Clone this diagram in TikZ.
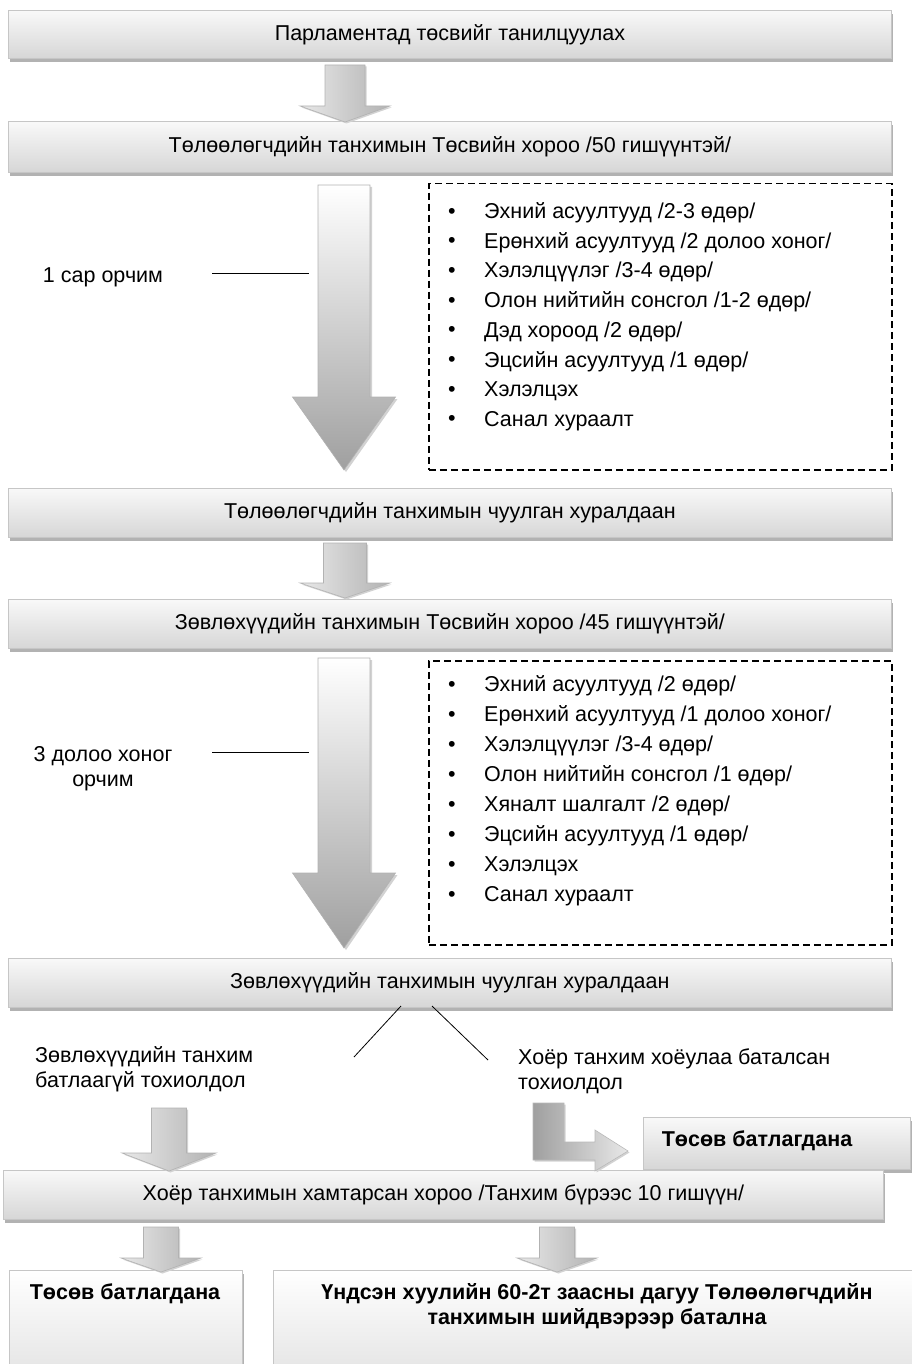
\documentclass[tikz,border=0pt]{standalone}
\usepackage{fontspec}
\setmainfont{Liberation Sans}
\usetikzlibrary{shadows,calc}
\newcommand{\dnarr}[7]{%
  \path[#1] ({#2-#6},#3) -- ({#2+#6},#3) -- ({#2+#6},#4) -- ({#2+#7},#4) -- (#2,#5) -- ({#2-#7},#4) -- ({#2-#6},#4) -- cycle;}
\begin{document}
\begin{tikzpicture}[x=1pt,y=-1pt,
  txt/.style={font=\fontsize{21.5}{25}\selectfont, inner sep=0pt},
  btxt/.style={font=\fontsize{21.5}{25}\selectfont\bfseries, inner sep=0pt},
  box/.style={txt, draw=gray!45, line width=0.8pt, top color=gray!5, bottom color=gray!32,
    drop shadow={shadow xshift=2pt, shadow yshift=-4pt, opacity=1, fill=gray!60},
    anchor=north west, align=center},
  wbox/.style={box, top color=white, bottom color=gray!22},
  dbox/.style={draw=black, line width=1.5pt, dash pattern=on 7pt off 4pt, anchor=north west, inner sep=0pt},
  smallarr/.style={draw=gray!60, line width=0.6pt, left color=gray!18, right color=gray!60,
    drop shadow={shadow xshift=1.5pt, shadow yshift=-1.5pt, opacity=1, fill=gray!35}},
  bigarr/.style={draw=gray!60, line width=0.6pt, top color=white, bottom color=gray!75,
    drop shadow={shadow xshift=2pt, shadow yshift=-2pt, opacity=1, fill=gray!35}},
  bentarr/.style={draw=gray!55, line width=0.6pt, left color=gray!75, right color=gray!18,
    drop shadow={shadow xshift=1.5pt, shadow yshift=-1.5pt, opacity=1, fill=gray!35}},
  thinline/.style={draw=black, line width=0.8pt}
]
\useasboundingbox (0,0) rectangle (912,1364);

% main boxes
\node[box, minimum width=883pt, minimum height=48pt] (b1) at (8,10) {Парламентад төсвийг танилцуулах};
\node[box, minimum width=883pt, minimum height=51pt] (b2) at (8,121) {Төлөөлөгчдийн танхимын Төсвийн хороо /50 гишүүнтэй/};
\node[box, minimum width=883pt, minimum height=49pt] (b3) at (8,488) {Төлөөлөгчдийн танхимын чуулган хуралдаан};
\node[box, minimum width=883pt, minimum height=49pt] (b4) at (8,599) {Зөвлөхүүдийн танхимын Төсвийн хороо /45 гишүүнтэй/};
\node[box, minimum width=883pt, minimum height=49pt] (b5) at (8,958) {Зөвлөхүүдийн танхимын чуулган хуралдаан};
\node[box, minimum width=267pt, minimum height=52pt] (b7) at (643,1117) {};
\node[btxt, anchor=center] (t7) at (757,1141) {Төсөв батлагдана};
\node[box, minimum width=880pt, minimum height=49pt] (b6) at (3,1170) {Хоёр танхимын хамтарсан хороо /Танхим бүрээс 10 гишүүн/};
\node[wbox, minimum width=233pt, minimum height=110pt] (b8) at (9,1270) {};
\node[wbox, minimum width=650pt, minimum height=110pt] (b9) at (273,1270) {};
\node[btxt] (t8) at (125,1294) {Төсөв батлагдана};
\node[btxt, align=center] (t9) at (597,1306) {Үндсэн хуулийн 60-2т заасны дагуу Төлөөлөгчдийн\\танхимын шийдвэрээр батална};

% dashed boxes
\node[dbox, minimum width=463pt, minimum height=286pt] (d1) at (428,183) {};
\node[dbox, minimum width=463pt, minimum height=284pt] (d2) at (428,660) {};

% bullet lists
\foreach \t [count=\i from 0] in {Эхний асуултууд /2-3 өдөр/, Ерөнхий асуултууд /2 долоо хоног/, Хэлэлцүүлэг /3-4 өдөр/, Олон нийтийн сонсгол /1-2 өдөр/, Дэд хороод /2 өдөр/, Эцсийн асуултууд /1 өдөр/, Хэлэлцэх, Санал хураалт}{
  \node[txt] (ba\i) at (452,{213+29.7*\i}) {•};
  \node[txt, anchor=west] (ta\i) at (484,{213+29.7*\i}) {\t};
}
\foreach \t [count=\i from 0] in {Эхний асуултууд /2 өдөр/, Ерөнхий асуултууд /1 долоо хоног/, Хэлэлцүүлэг /3-4 өдөр/, Олон нийтийн сонсгол /1 өдөр/, Хяналт шалгалт /2 өдөр/, Эцсийн асуултууд /1 өдөр/, Хэлэлцэх, Санал хураалт}{
  \node[txt] (bb\i) at (452,{686+30*\i}) {•};
  \node[txt, anchor=west] (tb\i) at (484,{686+30*\i}) {\t};
}

% side labels
\node[txt] (l1) at (103,277) {1 сар орчим};
\coordinate (l1a) at (212,273);
\coordinate (l1b) at (309,273);
\draw[thinline] (l1a) -- (l1b);
\node[txt, align=center] (l2) at (103,769) {3 долоо хоног\\орчим};
\coordinate (l2a) at (212,752);
\coordinate (l2b) at (309,752);
\draw[thinline] (l2a) -- (l2b);

% branch labels
\node[txt, align=left, anchor=north west] (lb) at (35,1046) {Зөвлөхүүдийн танхим\\батлаагүй тохиолдол};
\node[txt, align=left, anchor=north west] (rb) at (518,1049) {Хоёр танхим хоёулаа баталсан\\тохиолдол};
\coordinate (s1) at (401,1006);
\coordinate (e1) at (354,1057);
\coordinate (s2) at (432,1006);
\coordinate (e2) at (488,1060);
\draw[thinline] (s1) -- (e1);
\draw[thinline] (s2) -- (e2);

% block arrows
\dnarr{smallarr}{345}{65}{106}{122}{20}{45}
\dnarr{bigarr}{344}{185}{397}{470}{26}{51.5}
\dnarr{smallarr}{345}{543}{583}{598}{21.5}{45}
\dnarr{bigarr}{344}{658}{873}{948}{26}{51.5}
\dnarr{smallarr}{169}{1108}{1153}{1171}{17.5}{47}
\dnarr{smallarr}{161}{1227}{1258}{1272}{17.5}{40}
\dnarr{smallarr}{557}{1227}{1258}{1272}{17.5}{40}
\path[bentarr] (533,1103) -- (564,1103) -- (564,1142) -- (595,1142) -- (595,1130) -- (628,1151)
  -- (595,1171) -- (595,1160) -- (533,1160) -- cycle;
\end{tikzpicture}
\end{document}
